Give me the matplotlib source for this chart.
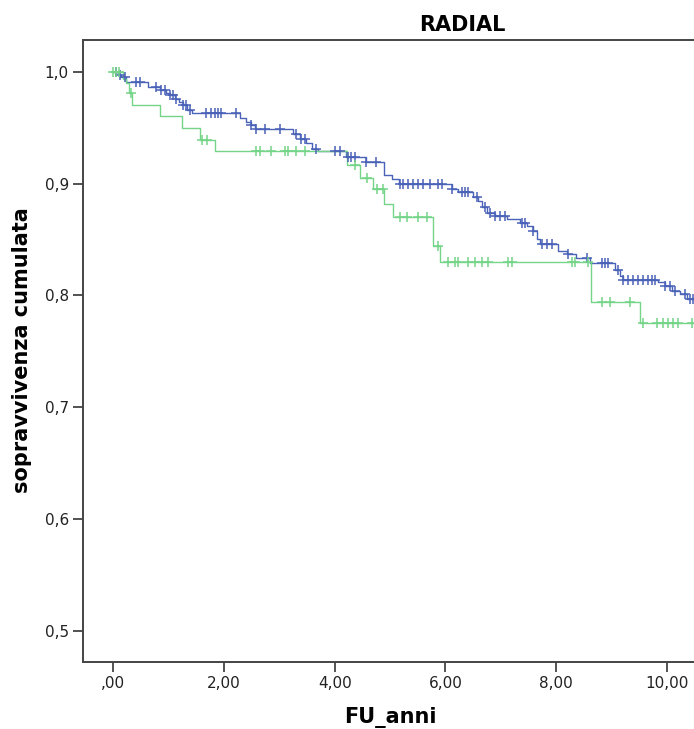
import numpy as np
import matplotlib
matplotlib.use("Agg")
import matplotlib.pyplot as plt
from matplotlib.ticker import FuncFormatter

# Kaplan-Meier steps (time in years, cumulative survival)
blue_t = [0.00, 0.08, 0.14, 0.23, 0.63, 0.84, 0.95, 1.02, 1.11, 1.19, 1.26, 1.33, 1.42,
          2.29, 2.40, 2.49, 2.56, 3.25, 3.37, 3.48, 3.59, 3.70, 4.20, 4.57, 4.89, 5.04,
          5.16, 6.12, 6.23, 6.50, 6.59, 6.66, 6.75, 6.90, 7.11, 7.35, 7.47, 7.58, 7.65,
          7.71, 8.03, 8.20, 8.36, 8.61, 9.06, 9.15, 9.21, 9.84, 9.97, 10.09, 10.24, 10.36]
blue_s = [1.000, 0.997, 0.995, 0.991, 0.986, 0.984, 0.981, 0.979, 0.976, 0.973, 0.970, 0.966, 0.963,
          0.959, 0.955, 0.952, 0.949, 0.944, 0.940, 0.936, 0.931, 0.929, 0.924, 0.919, 0.908, 0.904,
          0.900, 0.895, 0.892, 0.888, 0.884, 0.879, 0.874, 0.871, 0.868, 0.865, 0.862, 0.858, 0.850,
          0.846, 0.840, 0.837, 0.833, 0.829, 0.823, 0.817, 0.814, 0.812, 0.808, 0.804, 0.801, 0.797]
blue_cens = [0.05, 0.12, 0.21, 0.41, 0.48, 0.77, 0.86, 0.93, 1.02, 1.08, 1.13, 1.26, 1.31, 1.38,
             1.67, 1.77, 1.84, 1.89, 1.95, 2.22, 2.49, 2.58, 2.74, 3.01, 3.30, 3.39, 3.46, 3.66,
             4.01, 4.10, 4.25, 4.30, 4.37, 4.57, 4.75, 5.18, 5.23, 5.32, 5.41, 5.50, 5.60, 5.72,
             5.87, 5.94, 6.12, 6.30, 6.35, 6.41, 6.57, 6.72, 6.81, 6.90, 6.99, 7.08, 7.38, 7.44,
             7.58, 7.75, 7.84, 7.93, 8.21, 8.56, 8.83, 8.88, 8.94, 9.12, 9.21, 9.30, 9.39, 9.48,
             9.57, 9.66, 9.73, 9.79, 9.97, 10.06, 10.15, 10.33, 10.42, 10.47]

green_t = [0.00, 0.18, 0.23, 0.28, 0.34, 0.84, 1.24, 1.57, 1.84, 4.22, 4.46, 4.70, 4.89,
           5.05, 5.78, 5.90, 8.63, 9.52]
green_s = [1.000, 0.993, 0.990, 0.981, 0.970, 0.960, 0.950, 0.939, 0.929, 0.917, 0.905, 0.895, 0.882,
           0.870, 0.844, 0.830, 0.794, 0.775]
green_cens = [0.00, 0.05, 0.10, 0.32, 1.60, 1.69, 2.58, 2.65, 2.85, 3.10, 3.16, 3.30, 3.46,
              4.37, 4.58, 4.76, 4.87, 5.18, 5.31, 5.50, 5.67, 5.87, 6.05, 6.17, 6.23, 6.41,
              6.53, 6.66, 6.77, 7.13, 7.20, 8.29, 8.34, 8.58, 8.83, 8.97, 9.33, 9.57, 9.82,
              9.93, 10.02, 10.11, 10.20, 10.45]

x_ticks = [0, 2, 4, 6, 8, 10]
y_ticks = [0.5, 0.6, 0.7, 0.8, 0.9, 1.0]

blue = '#4a62b7'
green = '#74d487'


def km_curve(ax, t, s, cens, color):
    t = np.array(t)
    s = np.array(s)
    end = max(t[-1], max(cens)) + 0.1
    ax.step(np.append(t, end), np.append(s, s[-1]), where='post', color=color, lw=1.0, zorder=3)
    idx = np.searchsorted(t, cens, side='right') - 1
    ax.plot(cens, s[idx], linestyle='none', marker='+', color=color,
            markersize=6.5, mew=1.1, zorder=4)


def xfmt(v, pos):
    txt = ('%.2f' % v).replace('.', ',')
    return txt[1:] if txt.startswith('0') else txt


fig = plt.figure(figsize=(6.94, 7.29), dpi=100)
ax = fig.add_axes([82.7 / 694, 67 / 729, (841 - 82.7) / 694, (662 - 40) / 729])

km_curve(ax, blue_t, blue_s, blue_cens, blue)
km_curve(ax, green_t, green_s, green_cens, green)

ax.set_xlim(-0.553, 13.15)
ax.set_ylim(0.4723, 1.0283)
ax.set_xticks(x_ticks)
ax.set_yticks(y_ticks)
ax.xaxis.set_major_formatter(FuncFormatter(xfmt))
ax.yaxis.set_major_formatter(FuncFormatter(lambda v, p: ('%.1f' % v).replace('.', ',')))
ax.tick_params(axis='both', direction='out', length=7, width=1.3, color='#444444',
               labelsize=11, labelcolor='#222222', pad=3)
for sp in ax.spines.values():
    sp.set_color('#444444')
    sp.set_linewidth(1.4)

fig.text(462 / 694, 1 - 25 / 729, 'RADIAL', ha='center', va='center',
         fontsize=15, fontweight='bold')
fig.text(390 / 694, 1 - 718 / 729, 'FU_anni', ha='center', va='center',
         fontsize=15, fontweight='bold')
fig.text(22 / 694, 1 - 350 / 729, 'sopravvivenza cumulata', ha='center', va='center',
         rotation=90, fontsize=15, fontweight='bold')

fig.savefig('out.png', dpi=100)
